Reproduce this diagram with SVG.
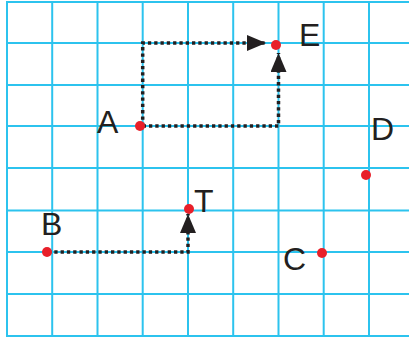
<svg xmlns="http://www.w3.org/2000/svg" width="409" height="339" viewBox="0 0 409 339">
<style>
.grid line{stroke:#2cc3ee;stroke-width:2}
.path{fill:none;stroke:#231f20;stroke-width:3.5;stroke-dasharray:3.3 3}
.dot{fill:#e8202a}
.lbl{font-family:"Liberation Sans",Arial,sans-serif;font-size:32px;fill:#231f20}
</style>
<defs>
<marker id="arr" markerUnits="userSpaceOnUse" markerWidth="20" markerHeight="17" refX="19" refY="8" orient="auto">
<path d="M0,0 L19,8 L0,16 z" fill="#231f20"/>
</marker>
</defs>
<rect width="409" height="339" fill="#fff"/>
<g class="grid">
<line x1="7" y1="2" x2="7" y2="336"/>
<line x1="52.2" y1="2" x2="52.2" y2="336"/>
<line x1="97.5" y1="2" x2="97.5" y2="336"/>
<line x1="142.7" y1="2" x2="142.7" y2="336"/>
<line x1="188" y1="2" x2="188" y2="336"/>
<line x1="233.2" y1="2" x2="233.2" y2="336"/>
<line x1="278.5" y1="2" x2="278.5" y2="336"/>
<line x1="323.7" y1="2" x2="323.7" y2="336"/>
<line x1="369" y1="2" x2="369" y2="336"/>
<line x1="6" y1="2" x2="409" y2="2"/>
<line x1="6" y1="43" x2="409" y2="43"/>
<line x1="6" y1="85" x2="409" y2="85"/>
<line x1="6" y1="126" x2="409" y2="126"/>
<line x1="6" y1="168" x2="409" y2="168"/>
<line x1="6" y1="210.5" x2="409" y2="210.5"/>
<line x1="6" y1="252" x2="409" y2="252"/>
<line x1="6" y1="294" x2="409" y2="294"/>
<line x1="6" y1="336" x2="409" y2="336"/>
</g>
<g id="connectors">
<path class="path" d="M142.7,126 V43 H266" marker-end="url(#arr)"/>
<path class="path" d="M142.7,126 H278.5 V53" marker-end="url(#arr)"/>
<path class="path" d="M48,252 H188 V214" marker-end="url(#arr)"/>
</g>
<g id="A"><circle class="dot" cx="140" cy="126" r="5"/><text class="lbl" x="97" y="133">A</text></g>
<g id="E"><circle class="dot" cx="276" cy="45" r="5"/><text class="lbl" x="299" y="46">E</text></g>
<g id="D"><circle class="dot" cx="366" cy="175" r="5"/><text class="lbl" x="371" y="140">D</text></g>
<g id="T"><circle class="dot" cx="189" cy="209" r="5"/><text class="lbl" x="194" y="212">T</text></g>
<g id="B"><circle class="dot" cx="47" cy="252" r="5"/><text class="lbl" x="41" y="235">B</text></g>
<g id="C"><circle class="dot" cx="322" cy="253" r="5"/><text class="lbl" x="283" y="270">C</text></g>
</svg>
